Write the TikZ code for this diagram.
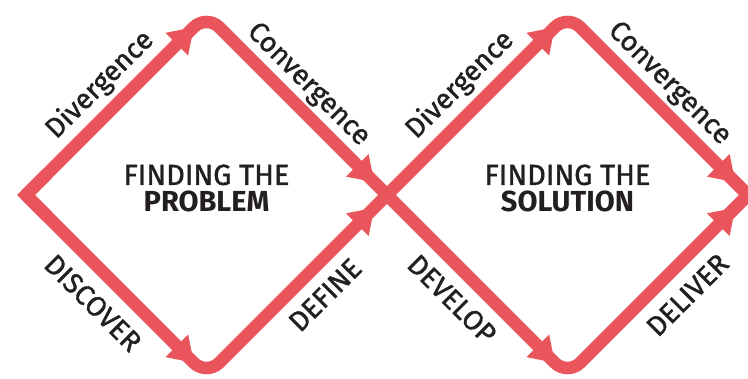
\documentclass[tikz,border=0pt]{standalone}
\usepackage{fontspec}
\setmainfont{Fira Sans}
\newfontfamily\medfont[FakeBold=1.3]{Fira Sans}
\usetikzlibrary{calc}
\definecolor{loopred}{RGB}{234,85,92}
\definecolor{ink}{RGB}{35,31,32}
\begin{document}
\begin{tikzpicture}[x=1pt,y=1pt,
  track/.style={draw=loopred, line width=12.5pt, rounded corners=18pt, line cap=butt},
  tipjoin/.style={draw=loopred, line width=12.5pt, line join=miter},
  flowhead/.pic={\fill[loopred] (0,0) -- (-24,16) -- (-24,-16) -- cycle;},
  edgelabel/.style={text=ink, font=\medfont\fontsize{28}{28}\selectfont, inner sep=0pt},
  title/.style={text=ink, font=\fontsize{29}{27}\selectfont, align=center, inner sep=0pt}]
\useasboundingbox (0,0) rectangle (748,379);

% corner points of the double diamond
\coordinate (L)  at (26,184);
\coordinate (TL) at (206.5,364.5);
\coordinate (BL) at (206.5,3.5);
\coordinate (X)  at (387,184);
\coordinate (TR) at (567.5,364.5);
\coordinate (BR) at (567.5,3.5);
\coordinate (R)  at (748,184);

% the two zig-zag tracks, crossing in the middle
\draw[track] (L) -- (TL) -- (BR) -- (R);
\draw[track] (L) -- (BL) -- (TR) -- (R);
% sharp outer points
\draw[tipjoin] ($(L)!30pt!(TL)$) -- (L) -- ($(L)!30pt!(BL)$);
\draw[tipjoin] ($(R)!30pt!(TR)$) -- (R) -- ($(R)!30pt!(BR)$);

% direction arrows
\path ($(TL)!18pt!(L)$)  pic[rotate=45]  {flowhead};
\path ($(X)!18pt!(TL)$)  pic[rotate=-45] {flowhead};
\path ($(BL)!18pt!(L)$)  pic[rotate=-45] {flowhead};
\path ($(X)!18pt!(BL)$)  pic[rotate=45]  {flowhead};
\path ($(TR)!18pt!(X)$)  pic[rotate=45]  {flowhead};
\path ($(R)!18pt!(TR)$)  pic[rotate=-45] {flowhead};
\path ($(BR)!18pt!(X)$)  pic[rotate=-45] {flowhead};
\path ($(R)!18pt!(BR)$)  pic[rotate=45]  {flowhead};

% titles
\node[title] (prob) at (206.5,190.5) {{\medfont FINDING THE}\\\textbf{PROBLEM}};
\node[title] (sol)  at (567.5,190.5) {{\medfont FINDING THE}\\\textbf{SOLUTION}};

% edge labels
\node[edgelabel, rotate=45]  (divL)  at (100,294)   {Divergence};
\node[edgelabel, rotate=-45] (convL) at (308,294)   {Convergence};
\node[edgelabel, rotate=-45] (disc)  at (93,76)     {DISCOVER};
\node[edgelabel, rotate=45]  (defi)  at (325,84)    {DEFINE};
\node[edgelabel, rotate=45]  (divR)  at (460,294)   {Divergence};
\node[edgelabel, rotate=-45] (convR) at (669,295)   {Convergence};
\node[edgelabel, rotate=-45] (devl)  at (452,80)    {DEVELOP};
\node[edgelabel, rotate=45]  (delv)  at (687.5,84)  {DELIVER};
\end{tikzpicture}
\end{document}
